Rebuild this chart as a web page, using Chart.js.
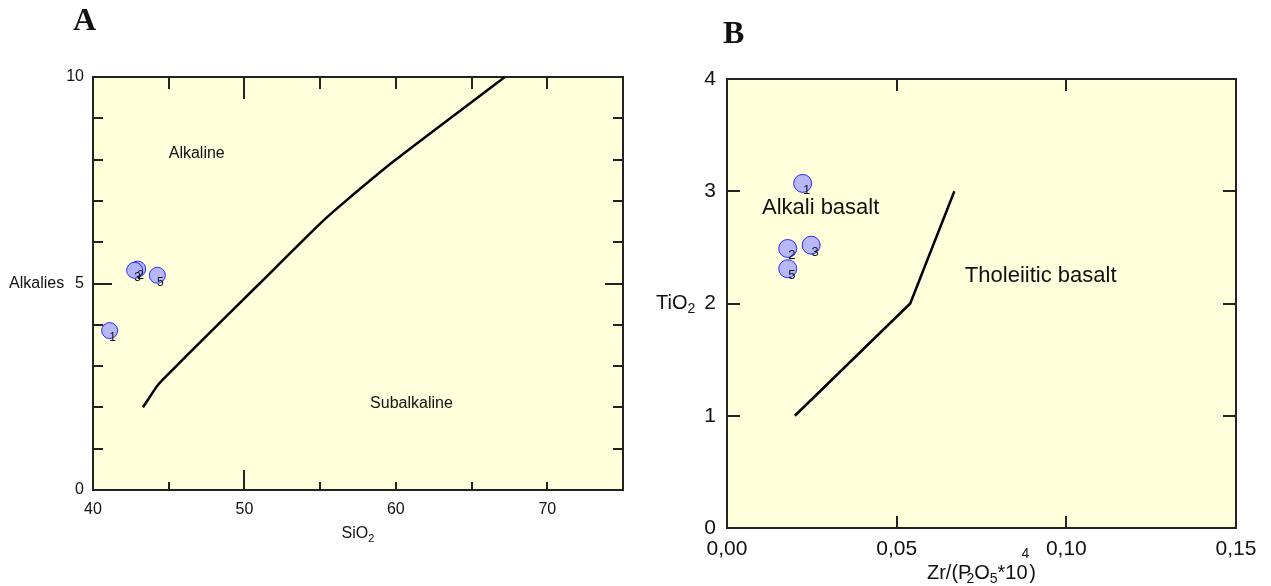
<!DOCTYPE html>
<html>
<head>
<meta charset="utf-8">
<script src="https://cdn.jsdelivr.net/npm/chart.js@4.4.1/dist/chart.umd.min.js"></script>
<style>
    html, body { margin: 0; padding: 0; background: #fff; }
    body { width: 1271px; height: 586px; position: relative; overflow: hidden; }
    .box { position: absolute; top: 0; height: 586px; }
    #boxA { left: 0; width: 640px; }
    #boxB { left: 640px; width: 631px; }
</style>
</head>
<body>
<div class="box" id="boxA"><canvas id="chartA"></canvas></div>
<div class="box" id="boxB"><canvas id="chartB"></canvas></div>
<script>
// Diagram A: SiO2 vs alkalies
const aSamples = ['1', '2', '3', '5'];
const aSiO2 = [41.1, 42.95, 42.75, 44.25];
const aAlkalies = [3.86, 5.35, 5.32, 5.2];
const aLineSiO2 = [43.3, 44.3, 45.5, 47.0, 51.0, 55.0, 56.7, 60.0, 67.2];
const aLineAlk = [2.0, 2.55, 3.0, 3.55, 5.0, 6.45, 7.0, 8.0, 10.0];
const aXTicks = [40, 50, 60, 70];
const aYTicks = [0, 5, 10];

// Diagram B: Zr/(P2O5*10^4) vs TiO2
const bSamples = ['1', '2', '3', '5'];
const bRatio = [0.0223, 0.0179, 0.0248, 0.0179];
const bTiO2 = [3.07, 2.49, 2.52, 2.31];
const bLineRatio = [0.020, 0.054, 0.067];
const bLineTiO2 = [1.0, 2.0, 3.0];
const bXTicks = [0, 0.05, 0.10, 0.15];
const bYTicks = [0, 1, 2, 3, 4];

const fontSans = '"Liberation Sans", Arial, sans-serif';
const fontSerif = '"Liberation Serif", "Times New Roman", serif';
const plotFill = '#ffffdc';
const frameColor = '#222';

function toXY(xs, ys) {
    return xs.map((x, i) => ({ x: x, y: ys[i] }));
}

// draw text made of parts, some of them sub- or superscript
function drawRich(ctx, parts, x, y, size, family, align) {
    const small = Math.round(size * 0.7);
    let total = 0;
    parts.forEach(p => {
        ctx.font = (p.sub || p.sup ? small : size) + 'px ' + family;
        p.w = ctx.measureText(p.t).width;
        total += p.w + (p.dx || 0);
    });
    let cx = align === 'center' ? x - total / 2 : x;
    ctx.textBaseline = 'middle';
    ctx.textAlign = 'left';
    parts.forEach(p => {
        ctx.font = (p.sub || p.sup ? small : size) + 'px ' + family;
        let dy = p.sub ? size * 0.3 : (p.sup ? -size * 0.95 : 0);
        cx += (p.dx || 0);
        ctx.fillText(p.t, cx, y + dy);
        cx += p.w;
    });
}

// background, inner ticks and frame of the plot area
function framePlugin(tickSets) {
    return {
        id: 'frame',
        beforeDatasetsDraw(chart) {
            const { ctx, chartArea: a, scales } = chart;
            ctx.save();
            ctx.fillStyle = plotFill;
            ctx.fillRect(a.left, a.top, a.right - a.left, a.bottom - a.top);
            ctx.strokeStyle = frameColor;
            ctx.lineWidth = 2;
            ctx.beginPath();
            tickSets.forEach(t => {
                t.values.forEach(v => {
                    if (t.side === 'top' || t.side === 'bottom') {
                        const px = Math.round(scales.x.getPixelForValue(v));
                        const y0 = t.side === 'top' ? a.top : a.bottom;
                        const dir = t.side === 'top' ? 1 : -1;
                        ctx.moveTo(px, y0);
                        ctx.lineTo(px, y0 + dir * t.len);
                    } else {
                        const py = Math.round(scales.y.getPixelForValue(v));
                        const x0 = t.side === 'left' ? a.left : a.right;
                        const dir = t.side === 'left' ? 1 : -1;
                        ctx.moveTo(x0, py);
                        ctx.lineTo(x0 + dir * t.len, py);
                    }
                });
            });
            ctx.stroke();
            ctx.strokeRect(a.left, a.top, a.right - a.left, a.bottom - a.top);
            ctx.restore();
        }
    };
}

// sample numbers beside the points, region names, axis titles, panel letter
function textPlugin(cfg) {
    return {
        id: 'texts',
        afterDatasetsDraw(chart) {
            const { ctx, chartArea: a, scales } = chart;
            ctx.save();
            ctx.fillStyle = '#111';
            const meta = chart.getDatasetMeta(0);
            ctx.font = cfg.numSize + 'px ' + fontSans;
            ctx.textAlign = 'center';
            ctx.textBaseline = 'middle';
            meta.data.forEach((pt, i) => {
                ctx.fillText(cfg.samples[i], pt.x + cfg.numDx, pt.y + cfg.numDy);
            });
            cfg.regions.forEach(r => {
                ctx.font = cfg.regionSize + 'px ' + fontSans;
                ctx.textAlign = 'left';
                ctx.textBaseline = 'middle';
                ctx.fillText(r.text, scales.x.getPixelForValue(r.x), scales.y.getPixelForValue(r.y));
            });
            drawRich(ctx, cfg.xTitle, (a.left + a.right) / 2, cfg.xTitleY, cfg.titleSize, fontSans, 'center');
            drawRich(ctx, cfg.yTitle, cfg.yTitleX, scales.y.getPixelForValue(cfg.yTitleAt), cfg.titleSize, fontSans, 'left');
            ctx.font = 'bold 32px ' + fontSerif;
            ctx.textAlign = 'left';
            ctx.textBaseline = 'middle';
            ctx.fillText(cfg.letter, cfg.letterX, cfg.letterY);
            ctx.restore();
        }
    };
}

function pointsDataset(data, radius) {
    return {
        data: data,
        pointRadius: radius,
        pointHoverRadius: radius,
        backgroundColor: 'rgba(178, 180, 250, 0.95)',
        borderColor: '#2626ff',
        borderWidth: 1,
        showLine: false
    };
}

function lineDataset(data, tension) {
    return {
        data: data,
        showLine: true,
        pointRadius: 0,
        borderColor: '#000',
        borderWidth: 2.5,
        tension: tension,
        fill: false
    };
}

Chart.defaults.animation = false;

// ---------- A ----------
new Chart(document.getElementById('chartA'), {
    type: 'scatter',
    data: {
        datasets: [
            pointsDataset(toXY(aSiO2, aAlkalies), 8),
            lineDataset(toXY(aLineSiO2, aLineAlk), 0.2)
        ]
    },
    options: {
        responsive: true,
        maintainAspectRatio: false,
        layout: { padding: { top: 77, right: 17, left: 0, bottom: 0 } },
        plugins: { legend: { display: false }, tooltip: { enabled: false } },
        scales: {
            x: {
                type: 'linear', min: 40, max: 75,
                afterBuildTicks: s => { s.ticks = aXTicks.map(v => ({ value: v })); },
                afterFit: s => { s.height = 96; },
                grid: { display: false, drawTicks: false }, border: { display: false },
                ticks: { color: '#111', padding: 10, maxRotation: 0, autoSkip: false, font: { family: fontSans, size: 16 } }
            },
            y: {
                type: 'linear', min: 0, max: 10,
                afterBuildTicks: s => { s.ticks = aYTicks.map(v => ({ value: v })); },
                afterFit: s => { s.width = 93; },
                grid: { display: false, drawTicks: false }, border: { display: false },
                ticks: { color: '#111', padding: 9, autoSkip: false, font: { family: fontSans, size: 16 } }
            }
        }
    },
    plugins: [
        framePlugin([
            { side: 'top', values: [45, 55, 60, 65, 70], len: 12 },
            { side: 'top', values: [50], len: 22 },
            { side: 'bottom', values: [45, 55, 60, 65, 70], len: 8 },
            { side: 'bottom', values: [50], len: 20 },
            { side: 'left', values: [1, 2, 3, 4, 6, 7, 8, 9], len: 10 },
            { side: 'left', values: [5], len: 19 },
            { side: 'right', values: [1, 2, 3, 4, 6, 7, 8, 9], len: 10 },
            { side: 'right', values: [5], len: 18 }
        ]),
        textPlugin({
            samples: aSamples, numSize: 12, numDx: 3, numDy: 7,
            regionSize: 16, titleSize: 16,
            regions: [
                { text: 'Alkaline', x: 45.0, y: 8.15 },
                { text: 'Subalkaline', x: 58.3, y: 2.1 }
            ],
            xTitle: [{ t: 'SiO' }, { t: '2', sub: true }], xTitleY: 534,
            yTitle: [{ t: 'Alkalies' }], yTitleX: 9, yTitleAt: 5,
            letter: 'A', letterX: 73, letterY: 22
        })
    ]
});

// ---------- B ----------
new Chart(document.getElementById('chartB'), {
    type: 'scatter',
    data: {
        datasets: [
            pointsDataset(toXY(bRatio, bTiO2), 9),
            lineDataset(toXY(bLineRatio, bLineTiO2), 0)
        ]
    },
    options: {
        responsive: true,
        maintainAspectRatio: false,
        layout: { padding: { top: 79, right: 35, left: 0, bottom: 0 } },
        plugins: { legend: { display: false }, tooltip: { enabled: false } },
        scales: {
            x: {
                type: 'linear', min: 0, max: 0.15,
                afterBuildTicks: s => { s.ticks = bXTicks.map(v => ({ value: v })); },
                afterFit: s => { s.height = 58; },
                grid: { display: false, drawTicks: false }, border: { display: false },
                ticks: {
                    color: '#111', padding: 9, maxRotation: 0, autoSkip: false,
                    font: { family: fontSans, size: 21 },
                    callback: v => v.toFixed(2).replace('.', ',')
                }
            },
            y: {
                type: 'linear', min: 0, max: 4,
                afterBuildTicks: s => { s.ticks = bYTicks.map(v => ({ value: v })); },
                afterFit: s => { s.width = 87; },
                grid: { display: false, drawTicks: false }, border: { display: false },
                ticks: { color: '#111', padding: 11, autoSkip: false, font: { family: fontSans, size: 21 } }
            }
        }
    },
    plugins: [
        framePlugin([
            { side: 'top', values: [0.05, 0.10], len: 12 },
            { side: 'bottom', values: [0.05, 0.10], len: 12 },
            { side: 'left', values: [1, 2, 3], len: 13 },
            { side: 'right', values: [1, 2, 3], len: 13 }
        ]),
        textPlugin({
            samples: bSamples, numSize: 13, numDx: 4, numDy: 7,
            regionSize: 22, titleSize: 20,
            regions: [
                { text: 'Alkali basalt', x: 0.0103, y: 2.85 },
                { text: 'Tholeiitic basalt', x: 0.0701, y: 2.25 }
            ],
            xTitle: [{ t: 'Zr/(P' }, { t: '2', sub: true, dx: -5 }, { t: 'O' }, { t: '5', sub: true }, { t: '*10' }, { t: '4', sup: true, dx: -6 }, { t: ')' }],
            xTitleY: 573,
            yTitle: [{ t: 'TiO' }, { t: '2', sub: true }], yTitleX: 16, yTitleAt: 2,
            letter: 'B', letterX: 83, letterY: 35
        })
    ]
});
</script>
</body>
</html>
